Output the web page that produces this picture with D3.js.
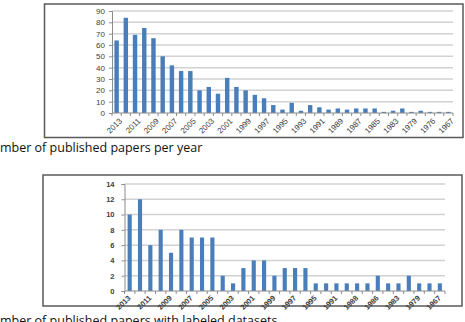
<!DOCTYPE html>
<html>
<head>
<meta charset="utf-8">
<script src="https://cdn.jsdelivr.net/npm/d3@7"></script>
<style>
  body { margin: 0; background: #fff; }
  svg { display: block; }
  .tick text { fill: #404040; }
</style>
</head>
<body>
<div id="chart"></div>
<script>
// papers per year (top chart)
var topYears = ["2013","2012","2011","2010","2009","2008","2007","2006","2005","2004",
  "2003","2002","2001","2000","1999","1998","1997","1996","1995","1994",
  "1993","1992","1991","1990","1989","1988","1987","1986","1985","1984",
  "1983","1980","1979","1977","1976","1970","1967"];
var topCounts = [64, 84, 69, 75, 66, 50, 42, 37, 37, 20,
  23, 17, 31, 23, 20, 16, 13, 7, 3, 9,
  2, 7, 5, 3, 4, 3, 4, 4, 4, 1,
  2, 4, 1, 2, 1, 1, 1];
var topTicks = [0, 10, 20, 30, 40, 50, 60, 70, 80, 90];

// papers with datasets (bottom chart)
var botYears = ["2013","2012","2011","2010","2009","2008","2007","2006","2005","2004",
  "2003","2002","2001","2000","1999","1998","1997","1996","1995","1993",
  "1991","1989","1988","1987","1986","1984","1983","1981","1979","1975","1967"];
var botCounts = [10, 12, 6, 8, 5, 8, 7, 7, 7, 2,
  1, 3, 4, 4, 2, 3, 3, 3, 1, 1,
  1, 1, 1, 1, 2, 1, 1, 2, 1, 1, 1];
var botTicks = [0, 2, 4, 6, 8, 10, 12, 14];

var captionTop = "Number of published papers per year";
var captionBot = "Number of published papers with labeled datasets";

var svgWidth = 465;
var svgHeight = 322;

var svg = d3.select("#chart")
  .append("svg")
  .attr("width", svgWidth)
  .attr("height", svgHeight);

function drawChart(cfg) {
  var g = svg.append("g");

  // outer frame
  g.append("rect")
    .attr("x", cfg.frame[0])
    .attr("y", cfg.frame[1])
    .attr("width", cfg.frame[2] - cfg.frame[0])
    .attr("height", cfg.frame[3] - cfg.frame[1])
    .attr("fill", "#fff")
    .attr("stroke", "#5a5a5a")
    .attr("stroke-width", 1.5);

  var x = d3.scaleBand()
    .domain(cfg.years)
    .range([cfg.left, cfg.right])
    .paddingInner(cfg.pad)
    .paddingOuter(cfg.pad / 2);

  var y = d3.scaleLinear()
    .domain([0, d3.max(cfg.ticks)])
    .range([cfg.bottom, cfg.top]);

  // gridlines
  g.append("g")
    .selectAll("line")
    .data(cfg.ticks.slice(1))
    .enter()
    .append("line")
    .attr("x1", cfg.left)
    .attr("x2", cfg.right)
    .attr("y1", d => y(d))
    .attr("y2", d => y(d))
    .attr("stroke", "#d2d2d2")
    .attr("stroke-width", 1.5);

  // y axis
  var leftAxis = d3.axisLeft(y)
    .tickValues(cfg.ticks)
    .tickSize(3)
    .tickPadding(cfg.ytickPad);

  var yAxis = g.append("g")
    .attr("transform", `translate(${cfg.left}, 0)`)
    .call(leftAxis);
  yAxis.select(".domain").attr("stroke", "#8c8c8c");
  yAxis.selectAll(".tick line").attr("stroke", "#8c8c8c");
  yAxis.selectAll("text")
    .attr("font-family", "Liberation Sans, Arial, sans-serif")
    .attr("font-size", cfg.yFont)
    .attr("font-weight", cfg.weight);

  // bars
  g.append("g")
    .selectAll("rect")
    .data(cfg.counts)
    .enter()
    .append("rect")
    .attr("x", (d, i) => x(cfg.years[i]))
    .attr("y", d => y(d))
    .attr("width", x.bandwidth())
    .attr("height", d => cfg.bottom - y(d))
    .attr("fill", "#4a7ebb");

  // x axis line with boundary ticks
  g.append("line")
    .attr("x1", cfg.left)
    .attr("x2", cfg.right)
    .attr("y1", cfg.bottom)
    .attr("y2", cfg.bottom)
    .attr("stroke", "#8c8c8c");

  var step = x.step();
  g.append("g")
    .selectAll("line")
    .data(d3.range(cfg.years.length + 1))
    .enter()
    .append("line")
    .attr("x1", i => cfg.left + i * step)
    .attr("x2", i => cfg.left + i * step)
    .attr("y1", cfg.bottom)
    .attr("y2", cfg.bottom + 3)
    .attr("stroke", "#8c8c8c");

  // every other year label, rotated
  g.append("g")
    .selectAll("text")
    .data(cfg.years.filter((d, i) => i % 2 === 0))
    .enter()
    .append("text")
    .attr("transform", d => `translate(${x(d) + x.bandwidth() / 2 + cfg.lblDx}, ${cfg.bottom + cfg.lblDy}) rotate(-45)`)
    .attr("text-anchor", "end")
    .attr("font-family", "Liberation Sans, Arial, sans-serif")
    .attr("font-size", cfg.xFont)
    .attr("font-weight", cfg.weight)
    .attr("fill", "#404040")
    .text(d => d);
}

drawChart({
  frame: [44.5, 4, 463, 137.5],
  left: 112, right: 453, top: 11, bottom: 113,
  years: topYears, counts: topCounts, ticks: topTicks,
  pad: 0.52, yFont: 8, xFont: 8, weight: "normal", ytickPad: 4,
  lblDx: 6, lblDy: 8.5
});

drawChart({
  frame: [43, 175, 462, 306],
  left: 124.5, right: 445, top: 184, bottom: 291,
  years: botYears, counts: botCounts, ticks: botTicks,
  pad: 0.6, yFont: 7.5, xFont: 7.5, weight: "bold", ytickPad: 7,
  lblDx: 1.5, lblDy: 7.5
});

// captions, cut off at the left edge like the original
function caption(txt, baseY) {
  var t = svg.append("text")
    .attr("y", baseY)
    .attr("font-family", "Open Sans, sans-serif")
    .attr("font-size", 12.5)
    .attr("fill", "#111")
    .text(txt);
  var probe = svg.append("text")
    .attr("font-family", "Open Sans, sans-serif")
    .attr("font-size", 12.5)
    .text("Nu");
  var w = probe.node().getComputedTextLength();
  probe.remove();
  t.attr("x", -w);
}

caption(captionTop, 152);
caption(captionBot, 325);
</script>
</body>
</html>
